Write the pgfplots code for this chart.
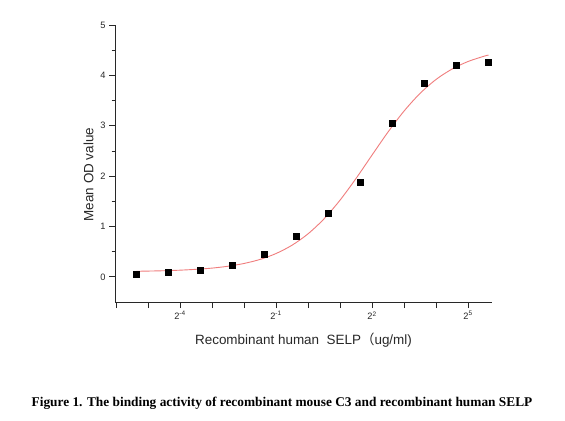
\documentclass[border=0pt]{standalone}
\usepackage{pgfplots}
\pgfplotsset{compat=1.18}
\usepackage{fontspec}
\setmainfont{Liberation Sans}
\newfontfamily\serifb{Liberation Serif}
\newfontfamily\cjk{Noto Sans CJK SC}
\definecolor{fitred}{RGB}{240,125,125}
\definecolor{axgray}{RGB}{40,40,40}
\begin{document}
\begin{tikzpicture}[x=1bp,y=1bp]
\path[use as bounding box, fill=white] (0,0) rectangle (565,420);
\begin{axis}[
  at={(115bp,118bp)}, anchor=south west,
  scale only axis, width=377bp, height=277bp,
  xmin=-6.03, xmax=5.75, ymin=-0.5, ymax=5,
  axis x line*=bottom, axis y line*=left,
  axis line style={axgray, line width=0.9bp},
  every tick/.style={axgray, line width=0.8bp},
  tick align=outside,
  major tick length=6bp, minor tick length=3.5bp,
  xtick={-6,-5,-4,-3,-2,-1,0,1,2,3,4,5},
  xticklabels={,,{2\textsuperscript{-4}},,,{2\textsuperscript{-1}},,,{2\textsuperscript{2}},,,{2\textsuperscript{5}}},
  ytick={0,1,2,3,4,5},
  yticklabels={0,1,2,3,4,5},
  minor ytick={0.5,1.5,2.5,3.5,4.5},
  ticklabel style={font=\fontsize{9.3}{11}\selectfont, text=axgray},
  xlabel={Recombinant human\ \ SELP{\cjk （}ug/ml)},
  ylabel={Mean OD value},
  label style={font=\fontsize{13.5}{16}\selectfont, text=axgray},
  xlabel style={yshift=-6bp},
  ylabel style={at={(axis description cs:-0.07,0.46)}, anchor=center},
  clip=false,
]
\addplot[smooth, fitred, line width=0.9bp] coordinates {
(-5.36,0.110) (-5.0,0.114) (-4.5,0.121) (-4.0,0.132) (-3.5,0.149)
(-3.0,0.173) (-2.5,0.210) (-2.0,0.265) (-1.5,0.345) (-1.0,0.462)
(-0.5,0.627) (0.0,0.853) (0.5,1.150) (1.0,1.521) (1.5,1.952)
(2.0,2.416) (2.5,2.874) (3.0,3.290) (3.5,3.641) (4.0,3.918)
(4.5,4.125) (5.0,4.275) (5.5,4.380) (5.64,4.403)
};
\addplot[only marks, mark=square*, mark size=3bp, black] coordinates {
(-5.36,0.048) (-4.36,0.088) (-3.36,0.140) (-2.36,0.233)
(-1.36,0.447) (-0.36,0.806) (0.64,1.265) (1.64,1.883)
(2.64,3.046) (3.64,3.838) (4.64,4.203) (5.64,4.257)
};
\end{axis}
\node[font=\serifb\bfseries\fontsize{13.4}{15}\selectfont] at (282,17) {Figure 1. The binding activity of recombinant mouse C3 and recombinant human SELP};
\end{tikzpicture}
\end{document}
